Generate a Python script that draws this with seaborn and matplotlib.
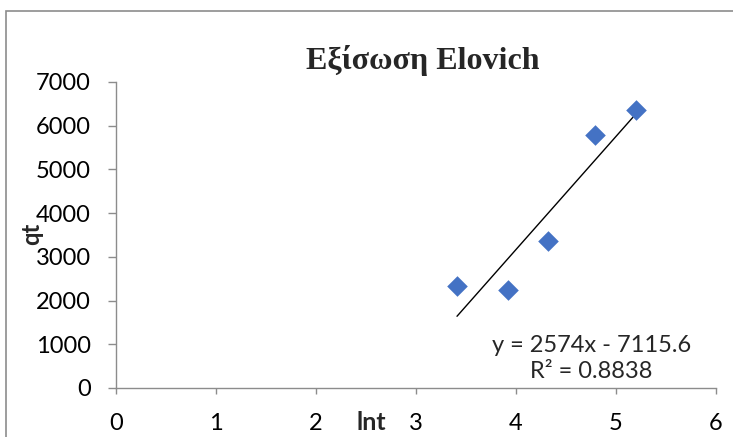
import numpy as np
import pandas as pd
import matplotlib
matplotlib.use("Agg")
import matplotlib.pyplot as plt
import seaborn as sns
from matplotlib.patches import Rectangle

# Data
lnt = [3.41, 3.92, 4.32, 4.79, 5.20]
qt = [2334, 2242, 3363, 5788, 6355]
x_ticks = [0, 1, 2, 3, 4, 5, 6]
y_ticks = [0, 1000, 2000, 3000, 4000, 5000, 6000, 7000]
title = "Εξίσωση Elovich"
eq_text = "y = 2574x - 7115.6"
r2_text = "R² = 0.8838"

df = pd.DataFrame({"lnt": lnt, "qt": qt})

sns.set_theme(style="white")
plt.rcParams['font.family'] = ['Lato', 'DejaVu Sans']

fig = plt.figure(figsize=(7.33, 4.37), dpi=100)
ax = fig.add_axes([116/733, 1-388/437, 600/733, (388-82)/437])

# outer chart frame
fig.patches.append(Rectangle((6/733, -0.2), 1.5, 1.2 - 11/437, transform=fig.transFigure,
                             fill=False, edgecolor="#8c8c8c", linewidth=1.2, zorder=0))

sns.regplot(data=df, x="lnt", y="qt", ax=ax, scatter=False, ci=None,
            line_kws=dict(color="black", linewidth=1.0))
sns.scatterplot(data=df, x="lnt", y="qt", ax=ax, marker="D", s=110,
                color="#4472C4", edgecolor="#4472C4", linewidth=0, zorder=3)

ax.set_xlim(0, 6)
ax.set_ylim(0, 7000)
ax.set_xticks(x_ticks)
ax.set_yticks(y_ticks)
ax.tick_params(axis="both", which="both", width=1, color="#8c8c8c",
               direction="out", labelsize=17, colors="black")
ax.tick_params(axis="x", length=4, pad=14)
ax.tick_params(axis="y", length=6, pad=12)
for s in ["top", "right"]:
    ax.spines[s].set_visible(False)
for s in ["left", "bottom"]:
    ax.spines[s].set_color("#8c8c8c")
    ax.spines[s].set_linewidth(1)
ax.xaxis.set_ticks_position("bottom")
ax.yaxis.set_ticks_position("left")
ax.set_xlabel("")
ax.set_ylabel("")
ax.grid(False)

fig.text(423/733, 1-60/437, title, ha="center", va="center", fontsize=23,
         fontweight="bold", family=["Liberation Serif", "DejaVu Serif"])
fig.text(32/733, 1-234/437, "qt", ha="center", va="center", rotation=90,
         fontsize=17, fontweight="bold")
fig.text(371/733, 1-422/437, "lnt", ha="center", va="center",
         fontsize=18, fontweight="bold")
fig.text(592/733, 1-345/437, eq_text, ha="center", va="center", fontsize=17)
fig.text(591/733, 1-372/437, r2_text, ha="center", va="center", fontsize=17)

fig.savefig("out.png", dpi=100)
